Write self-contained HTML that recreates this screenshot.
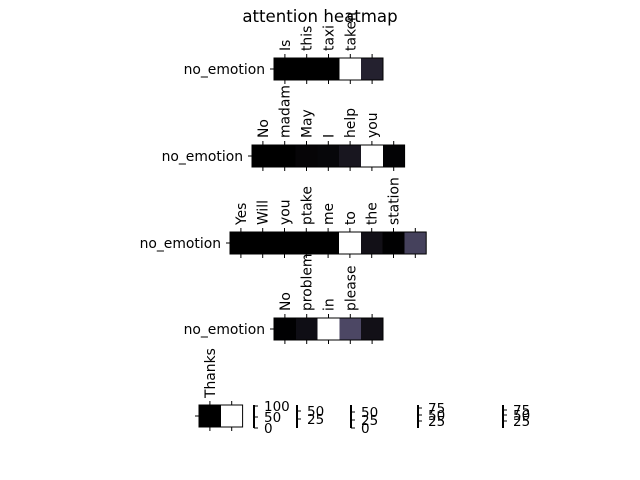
<!DOCTYPE html>
<html><head><meta charset="utf-8"><style>
body{margin:0;background:#fff}
svg{display:block;font-family:"DejaVu Sans","Liberation Sans",sans-serif}
</style></head><body>
<svg id="chart" width="640" height="480">
<text x="320" y="22" font-size="16.6" text-anchor="middle">attention heatmap</text>
</svg>
<script>
const rowLabels = ["no_emotion","no_emotion","no_emotion","no_emotion",""];
const rowTokens = [
 ["Is","this","taxi","taken"],
 ["No","madam","May","I","help","you"],
 ["Yes","Will","you","ptake","me","to","the","station"],
 ["No","problem","in","please"],
 ["Thanks"]
];
const rowValues = [
 [0,0,0,100,18],
 [0,0,3,4,12,100,2],
 [0,0,0,0,0,100,9,1,35],
 [1,8,100,38,9],
 [0,100]
];
const rowLeft = [274,252,230,274,199];
const rowTop = [58,145,232,318,405];
const cbX = [254,297,351,418,503];
const cbTicks = [["100","50","0"],["50","25"],["50","25","0"],["75","50","25"],["75","50","25"]];
const cbTickY = [[406,417,428],[411,419],[412,420,428],[408,415,421],[410,415,421]];

const NS="http://www.w3.org/2000/svg";
const svg=document.getElementById('chart');
const cw=21.8, ch=22;
function mk(t,a){const e=document.createElementNS(NS,t);for(const k in a)e.setAttribute(k,a[k]);svg.appendChild(e);return e;}
function color(v){
  const t=v/100;
  let r,g,b;
  if(t<0.4){const s=t/0.4;r=80*s;g=75*s;b=106*s;}
  else{const s=(t-0.4)/0.6;r=80+175*s;g=75+180*s;b=106+149*s;}
  return `rgb(${r|0},${g|0},${b|0})`;
}
rowValues.forEach((vals,ri)=>{
  const x0=rowLeft[ri], y0=rowTop[ri];
  vals.forEach((v,ci)=>{
    const last=ci===vals.length-1;
    const c=mk('rect',{x:x0+ci*cw,y:y0,width:last?cw:cw+1,height:ch,fill:color(v),'shape-rendering':'crispEdges'});
    
    
  });
  const fr=mk('rect',{x:x0,y:y0,width:vals.length*cw,height:ch,fill:'none',stroke:'#000','stroke-width':1});
  
  
  for(let ci=0;ci<vals.length;ci++){
    const cx=x0+ci*cw+cw/2;
    mk('line',{x1:cx,x2:cx,y1:y0,y2:y0-4,stroke:'#000'});
    mk('line',{x1:cx,x2:cx,y1:y0+ch,y2:y0+ch+4,stroke:'#000'});
  }
  rowTokens[ri].forEach((tok,ci)=>{
    const cx=x0+ci*cw+cw/2+5, ty=y0-7;
    const t=mk('text',{x:cx,y:ty,'font-size':13.9,transform:`rotate(-90 ${cx} ${ty})`});
    t.textContent=tok;
    
    
  });
  mk('line',{x1:x0,x2:x0-4,y1:y0+ch/2,y2:y0+ch/2,stroke:'#000'});
  if(rowLabels[ri]){
    const t=mk('text',{x:x0-9,y:y0+ch/2+5,'font-size':13.9,'text-anchor':'end'});
    t.textContent=rowLabels[ri];
    
    
  }
});
cbX.forEach((x,i)=>{
  const l=mk('line',{x1:x,x2:x,y1:405,y2:428,stroke:'#000','stroke-width':2});
  
  
  cbTicks[i].forEach((lab,j)=>{
    const y=cbTickY[i][j];
    mk('line',{x1:x,x2:x+4,y1:y,y2:y,stroke:'#000'});
    const t=mk('text',{x:x+10,y:y+5,'font-size':13.5});
    t.textContent=lab;
    
    
  });
});
</script>
</body></html>
